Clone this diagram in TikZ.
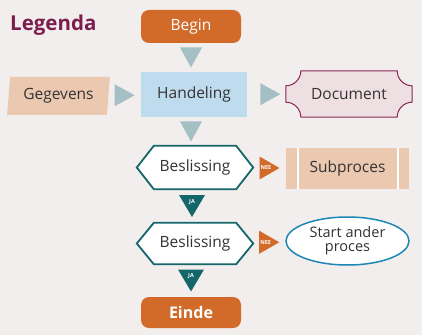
\documentclass[tikz,border=0pt]{standalone}
\usepackage{fontspec}
\setmainfont{Open Sans}
\usetikzlibrary{shapes.geometric,positioning,calc,backgrounds}

\definecolor{achtergrond}{HTML}{F3EEEE}
\definecolor{oranje}{HTML}{D26A2A}
\definecolor{grijsblauw}{HTML}{A4C0C4}
\definecolor{lichtblauw}{HTML}{BFDCEE}
\definecolor{perzik}{HTML}{EBC8B0}
\definecolor{roze}{HTML}{EEDFE2}
\definecolor{bordeaux}{HTML}{8B2557}
\definecolor{titel}{HTML}{7B1E4D}
\definecolor{petrol}{HTML}{15666A}
\definecolor{blauw}{HTML}{1D87B5}
\definecolor{tekst}{HTML}{333333}

\begin{document}
\begin{tikzpicture}[x=1pt,y=1pt,
    tekstje/.style={font=\fontsize{15.5}{18}\selectfont, text=tekst, inner sep=0pt},
    startstop/.style={tekstje, rounded corners=8pt, fill=oranje, text=white, minimum width=100pt},
    beslis/.style={tekstje, minimum width=116pt},
    pijl/.style={fill=grijsblauw},
    klein/.style={font=\fontsize{5.5}{6}\selectfont\bfseries, text=white, inner sep=0pt}]
    \node[anchor=base west, font=\fontsize{20.5}{24}\selectfont\bfseries, text=titel, inner sep=0pt] (legenda) at (10,304) {Legenda};
    % kolom
    \node[startstop, minimum height=33pt] (begin) at (191,308.5) {Begin};
    \node[tekstje, fill=lichtblauw, minimum width=106pt, minimum height=45pt] (handeling) at (194,240.5) {Handeling};
    \node[beslis, minimum height=43pt] (beslis1) at (195,167.5) {Beslissing};
    \node[beslis, minimum height=41pt] (beslis2) at (195,91.5) {Beslissing};
    \node[startstop, minimum height=31pt, font=\fontsize{16}{18}\selectfont\bfseries] (einde) at (191,22.5) {Einde};
    % links en rechts
    \node[tekstje, trapezium, trapezium stretches=true, trapezium left angle=82, trapezium right angle=98, fill=perzik, minimum width=103pt, minimum height=38pt] (gegevens) at (58.5,239) {Gegevens};
    \node[tekstje, minimum width=126pt, minimum height=46pt] (document) at (349,241) {Document};
    \node[tekstje, fill=perzik, minimum width=123pt, minimum height=41pt] (subproces) at (347.5,166.5) {Subproces};
    \node[tekstje, ellipse, draw=blauw, line width=1.5pt, fill=white, minimum width=123pt, minimum height=48pt, align=center, font=\fontsize{14.5}{14}\selectfont] (ander) at (347.5,94) {Start ander\\proces};
    % vormen achter de tekst
    \begin{scope}[on background layer]
      \fill[achtergrond] (0,0) rectangle (422,335);
      \draw[bordeaux, fill=roze, line width=1pt]
        ([xshift=15]document.north west) -- ([xshift=-15]document.north east)
        arc[start angle=180, end angle=270, radius=15] -- ([yshift=15]document.south east)
        arc[start angle=90, end angle=180, radius=15] -- ([xshift=15]document.south west)
        arc[start angle=0, end angle=90, radius=15] -- ([yshift=-15]document.north west)
        arc[start angle=270, end angle=360, radius=15] -- cycle;
      \foreach \b in {beslis1,beslis2}{
        \draw[petrol, fill=white, line width=1.8pt, line join=miter]
          (\b.west) -- ([xshift=17]\b.north west) -- ([xshift=-17]\b.north east)
          -- (\b.east) -- ([xshift=-17]\b.south east) -- ([xshift=17]\b.south west) -- cycle;
      }
    \end{scope}
    \draw[white, line width=1.5pt] ([xshift=12]subproces.north west) -- ([xshift=12]subproces.south west);
    \draw[white, line width=1.5pt] ([xshift=-11]subproces.north east) -- ([xshift=-11]subproces.south east);
    % pijlen
    \coordinate (p1) at ($(begin.south)!.5!(begin.south |- handeling.north)$);
    \coordinate (p2) at ($(begin.south |- handeling.south)!.5!(begin.south |- beslis1.north)$);
    \coordinate (p3) at ($(gegevens.east)!.5!(handeling.west)$);
    \coordinate (p4) at ($(handeling.east)!.6!(document.west)$);
    \fill[pijl] (p1) ++(-11,10) -- ++(22,0) -- ++(-11,-20) -- cycle;
    \fill[pijl] (p2) ++(-11,10) -- ++(22,0) -- ++(-11,-20) -- cycle;
    \fill[pijl] (p3) ++(-10,11) -- ++(0,-22) -- ++(20,11) -- cycle;
    \fill[pijl] (p4) ++(-10,11) -- ++(0,-22) -- ++(20,11) -- cycle;
    \coordinate (ja1) at ($([xshift=-3]beslis1.south)!.5!([xshift=-3]beslis2.north)$);
    \coordinate (ja2) at ($(begin.south |- beslis2.south)!.5!(einde.north)$);
    \coordinate (nee1) at ($(beslis1.east)!.5!(subproces.west)$);
    \coordinate (nee2) at ($(beslis2.east)!.5!(ander.west)$);
    \foreach \p in {ja1,ja2}{
      \fill[petrol] (\p) ++(-13,11) -- ++(26,0) -- ++(-13,-22) -- cycle;
      \node[klein] (\p-tekst) at ([yshift=4]\p) {JA};
    }
    \foreach \p in {nee1,nee2}{
      \fill[oranje] (\p) ++(-10,11.5) -- ++(0,-23) -- ++(20,11.5) -- cycle;
      \node[klein] (\p-tekst) at ([xshift=-3.5]\p) {NEE};
    }
\end{tikzpicture}
\end{document}
